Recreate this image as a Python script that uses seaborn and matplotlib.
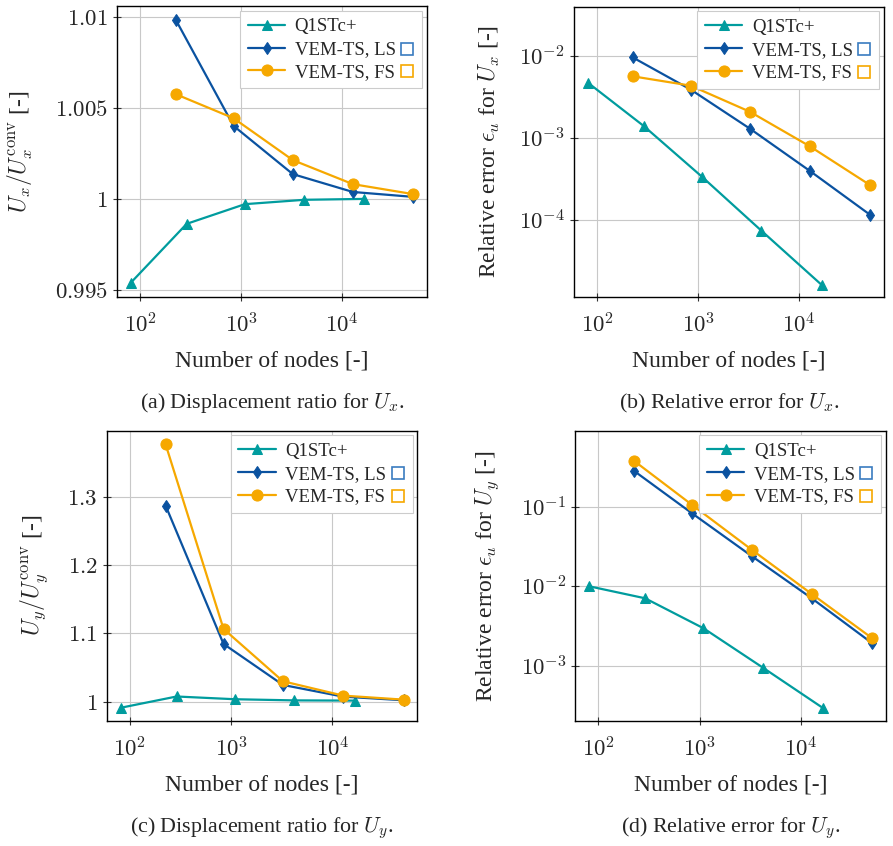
import numpy as np
import pandas as pd
import matplotlib
matplotlib.use("Agg")
import matplotlib.pyplot as plt
import seaborn as sns
from matplotlib.lines import Line2D
from matplotlib.ticker import FuncFormatter, LogLocator, NullLocator, FixedLocator

# node counts
nodes_q1 = [81, 289, 1089, 4225, 16641]
nodes_vem = [225, 841, 3249, 12769, 50625]

# (a) displacement ratio Ux
ux_q1 = [0.9954, 0.99863, 0.99971, 0.99995, 1.0000]
ux_ls = [1.00984, 1.00401, 1.00136, 1.00038, 1.00011]
ux_fs = [1.00575, 1.00443, 1.00213, 1.00081, 1.00026]

# (b) relative error Ux
ex_q1 = [4.72e-3, 1.40e-3, 3.37e-4, 7.4e-5, 1.62e-5]
ex_ls = [9.6e-3, 3.9e-3, 1.30e-3, 3.96e-4, 1.15e-4]
ex_fs = [5.65e-3, 4.35e-3, 2.09e-3, 7.9e-4, 2.65e-4]

# (c) displacement ratio Uy
uy_q1 = [0.991, 1.0075, 1.0035, 1.0018, 1.0015]
uy_ls = [1.287, 1.0844, 1.0244, 1.0073, 1.0020]
uy_fs = [1.3767, 1.1064, 1.0298, 1.0088, 1.0029]

# (d) relative error Uy
ey_q1 = [1.0e-2, 7.06e-3, 2.96e-3, 9.4e-4, 2.9e-4]
ey_ls = [0.284, 0.083, 0.0241, 7.06e-3, 1.91e-3]
ey_fs = [0.38, 0.106, 0.029, 8.0e-3, 2.21e-3]

labels = ["Q1STc+", "VEM-TS, LS", "VEM-TS, FS"]
colors = ["#009C9E", "#0A52A0", "#F6A800"]
square_colors = ["#3A7CC0", "#F6A800"]
markers = ["^", "d", "o"]
msizes = [7, 6, 8]

sns.set_style("ticks")
plt.rcParams["font.family"] = ["Liberation Serif", "DejaVu Serif"]
plt.rcParams["mathtext.fontset"] = "cm"


def make_df(q1, ls, fs):
    return pd.DataFrame({
        "nodes": nodes_q1 + nodes_vem + nodes_vem,
        "val": q1 + ls + fs,
        "method": [labels[0]] * 5 + [labels[1]] * 5 + [labels[2]] * 5,
    })


fig = plt.figure(figsize=(8.93, 8.46), dpi=100)
pos = {
    "a": [0.131, 0.6493, 0.347, 0.3436],
    "b": [0.6428, 0.6493, 0.3471, 0.3428],
    "c": [0.1195, 0.1478, 0.3478, 0.3432],
    "d": [0.6442, 0.1478, 0.3479, 0.3432],
}
ylab_x = {"a": -0.265, "b": -0.232, "c": -0.183, "d": -0.238}

panels = [
    ("a", make_df(ux_q1, ux_ls, ux_fs), False, (0.99463, 1.01059),
     r"$U_x/U_x^{\mathrm{conv}}$ [-]", r"(a) Displacement ratio for $U_x$."),
    ("b", make_df(ex_q1, ex_ls, ex_fs), True, (10 ** -4.935, 10 ** -1.399),
     r"Relative error $\epsilon_u$ for $U_x$ [-]", r"(b) Relative error for $U_x$."),
    ("c", make_df(uy_q1, uy_ls, uy_fs), False, (0.9717, 1.3966),
     r"$U_y/U_y^{\mathrm{conv}}$ [-]", r"(c) Displacement ratio for $U_y$."),
    ("d", make_df(ey_q1, ey_ls, ey_fs), True, (10 ** -3.697, 10 ** -0.038),
     r"Relative error $\epsilon_u$ for $U_y$ [-]", r"(d) Relative error for $U_y$."),
]

yticks = {
    "a": [0.995, 1.0, 1.005, 1.01],
    "c": [1.0, 1.1, 1.2, 1.3],
}
ytick_txt = {
    "a": ["0.995", "1", "1.005", "1.01"],
    "c": ["1", "1.1", "1.2", "1.3"],
}

axes = {}
for key, df, logy, ylim, ylab, cap in panels:
    ax = fig.add_axes(pos[key])
    axes[key] = ax
    for i, lab in enumerate(labels):
        sub = df[df["method"] == lab]
        leg_lab = lab if i == 0 else lab + "    "
        sns.lineplot(data=sub, x="nodes", y="val", ax=ax, color=colors[i],
                     marker=markers[i], markersize=msizes[i], lw=1.6,
                     markeredgecolor=colors[i], label=leg_lab)
    ax.set_xscale("log")
    ax.set_xlim(59, 69000)
    ax.xaxis.set_major_locator(FixedLocator([1e2, 1e3, 1e4]))
    ax.xaxis.set_minor_locator(NullLocator())
    ax.xaxis.set_major_formatter(FuncFormatter(lambda v, p: r"$10^{%d}$" % round(np.log10(v))))
    if logy:
        ax.set_yscale("log")
        ax.yaxis.set_major_locator(LogLocator(base=10, numticks=10))
        ax.yaxis.set_minor_locator(NullLocator())
        ax.yaxis.set_major_formatter(FuncFormatter(lambda v, p: r"$10^{%d}$" % round(np.log10(v))))
    else:
        ax.set_yticks(yticks[key])
        ax.set_yticklabels([r"$%s$" % t for t in ytick_txt[key]])
    ax.set_ylim(*ylim)
    ax.grid(True, color="#c8c8c8", lw=0.8)
    ax.set_axisbelow(True)
    ax.tick_params(direction="inout", length=6, width=0.8, labelsize=16.5, color="#333333")
    ax.tick_params(axis="x", pad=9)
    for s in ax.spines.values():
        s.set_linewidth(1.0)
        s.set_color("black")
    ax.set_xlabel("Number of nodes [-]", fontsize=17, labelpad=9)
    ax.set_ylabel(ylab, fontsize=17)
    ax.yaxis.set_label_coords(ylab_x[key], 0.5)
    leg = ax.legend(loc="upper right", fontsize=13.5, frameon=True, fancybox=False,
                    edgecolor="#cccccc", framealpha=1, borderaxespad=0.25,
                    handlelength=2.0, labelspacing=0.3, borderpad=0.4,
                    handletextpad=0.5)
    leg.get_frame().set_linewidth(0.8)
    bb = ax.get_position()
    fig.text(bb.x0 + bb.width / 2, bb.y0 - 0.126, cap, ha="center", va="center", fontsize=15.8)

# coloured open squares after the VEM-TS legend labels
fig.canvas.draw()
inv = fig.transFigure.inverted()
for key, ax in axes.items():
    leg = ax.get_legend()
    frame = leg.get_frame().get_window_extent()
    texts = leg.get_texts()
    for t, c in zip(texts[1:], square_colors):
        ext = t.get_window_extent()
        x, y = inv.transform((frame.x1 - 15, (ext.y0 + ext.y1) / 2 + 1))
        fig.add_artist(Line2D([x], [y], marker="s", markersize=9, mfc="white",
                              mec=c, mew=1.2, ls="none", transform=fig.transFigure))

fig.savefig("out.png", dpi=100)
